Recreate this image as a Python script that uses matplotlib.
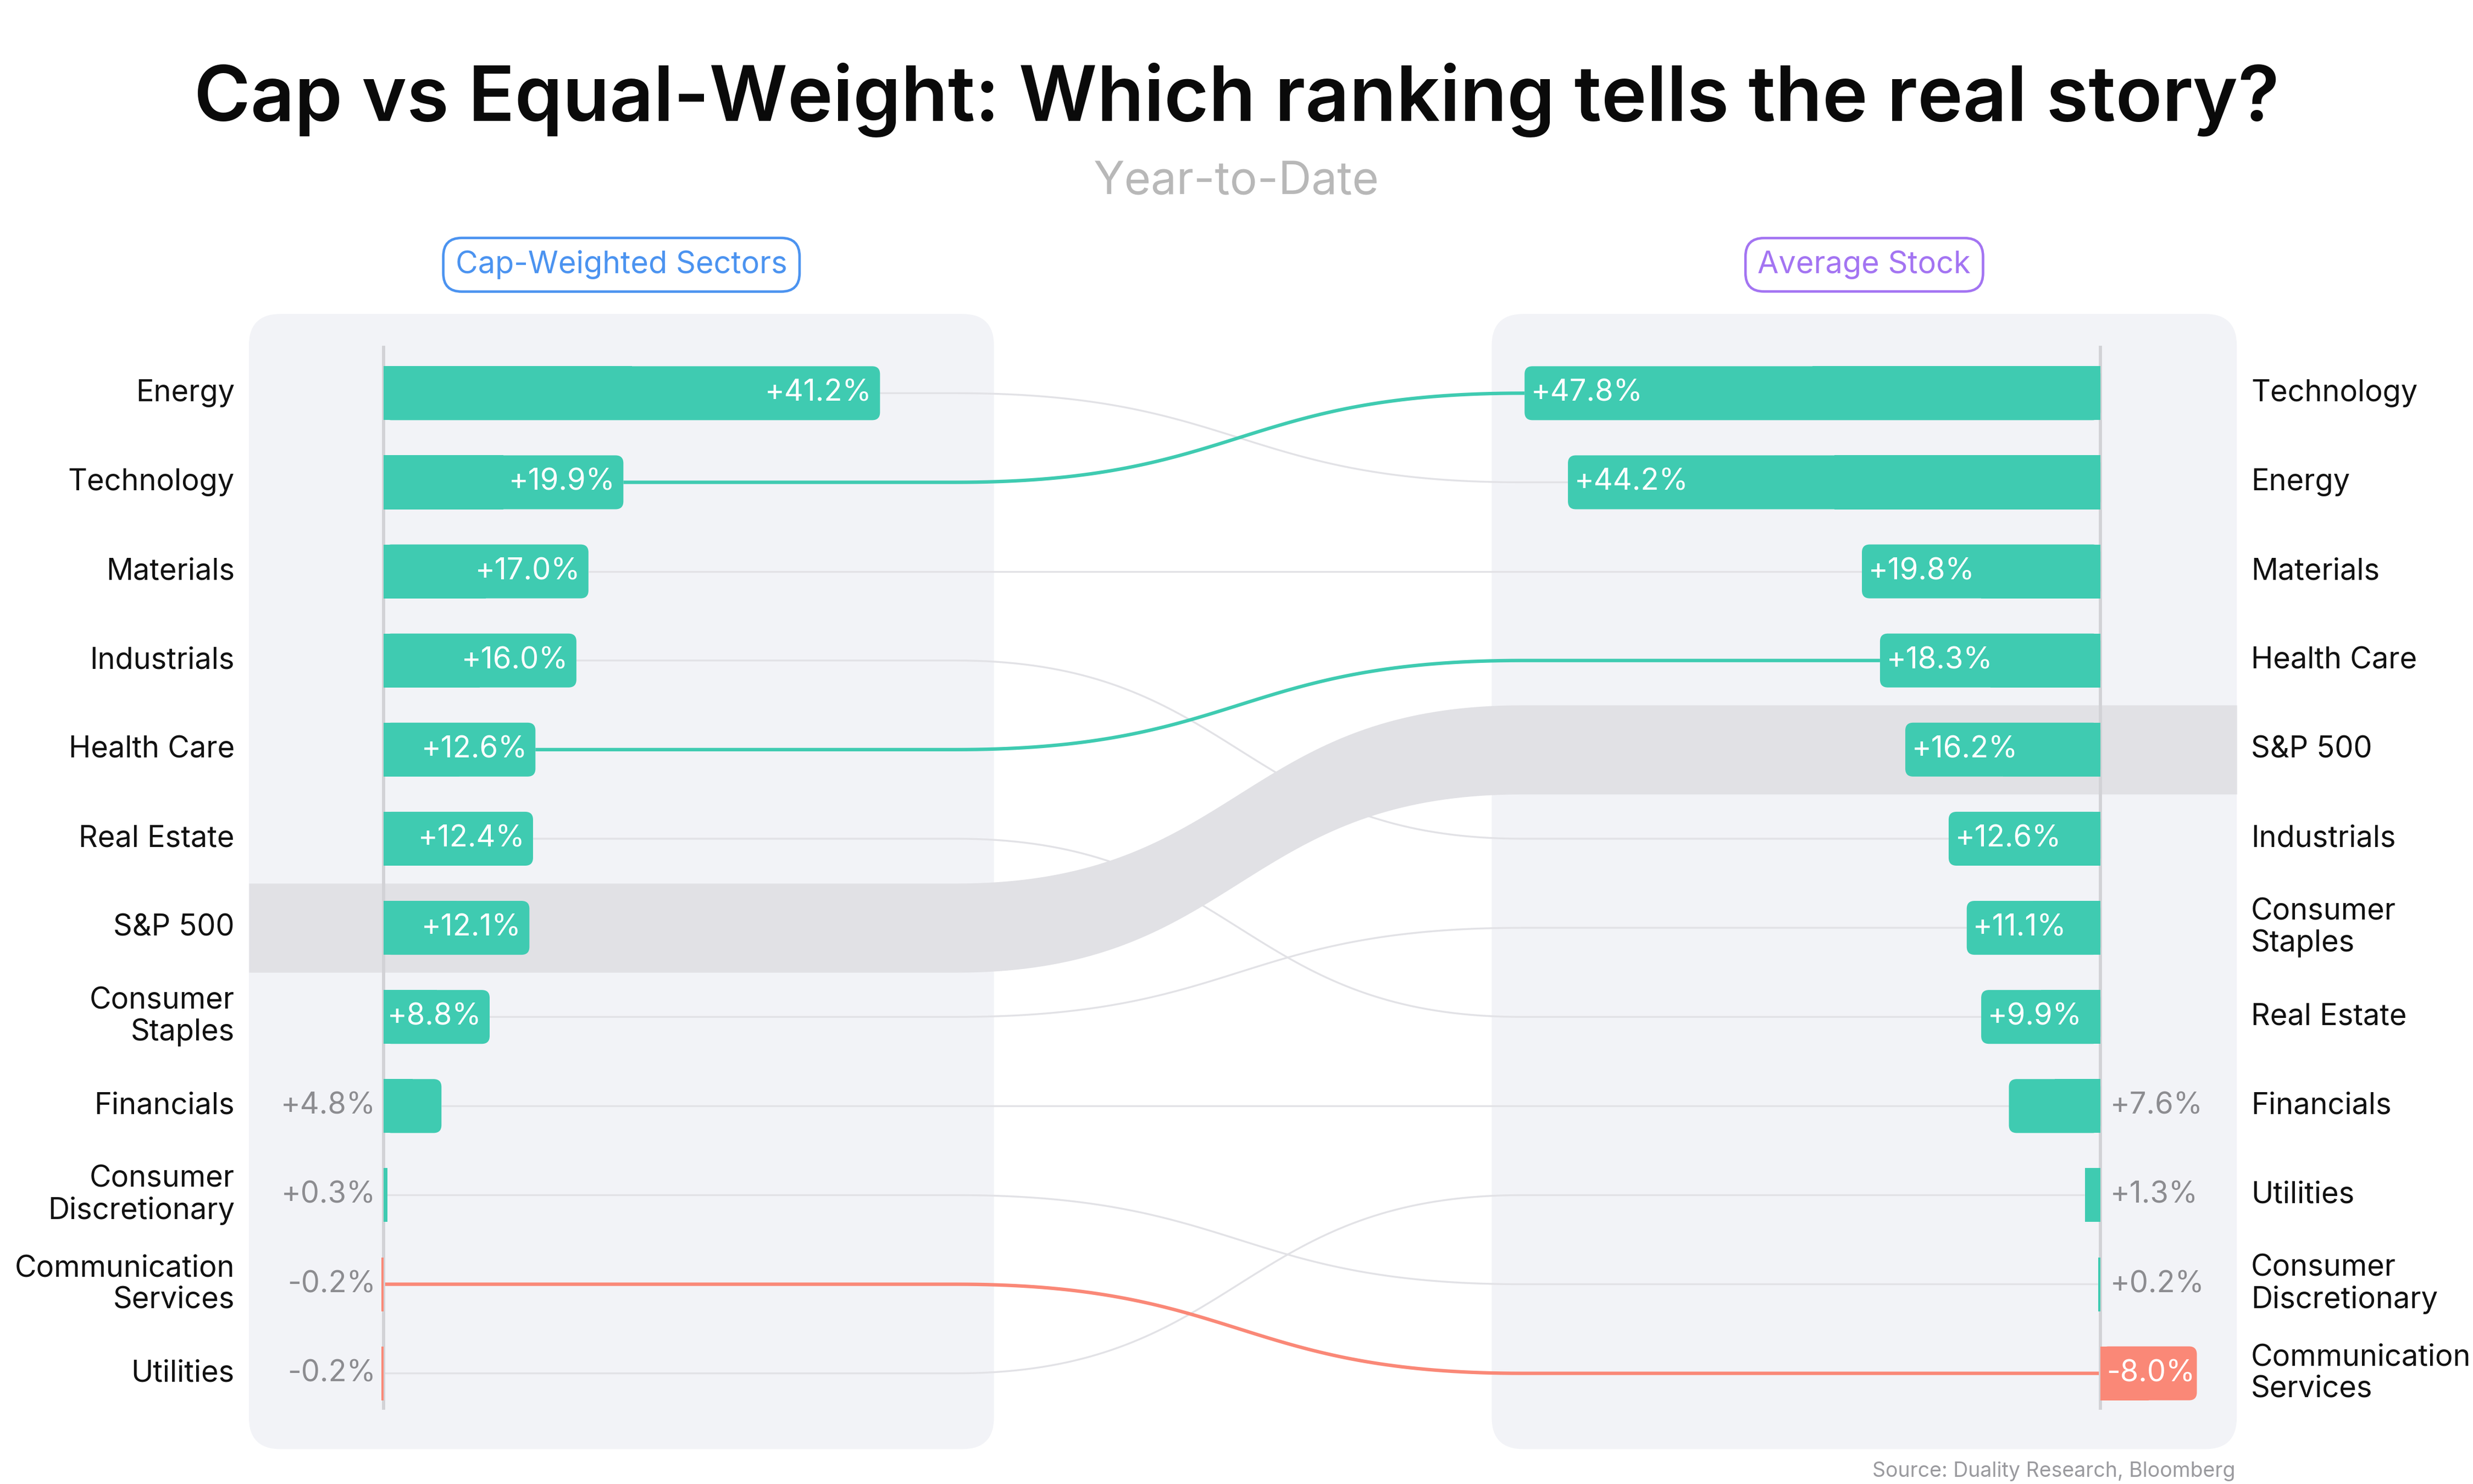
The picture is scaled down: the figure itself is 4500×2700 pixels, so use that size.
import matplotlib
matplotlib.use("Agg")
import matplotlib.pyplot as plt
from matplotlib.patches import FancyBboxPatch, Rectangle
import numpy as np

plt.rcParams['font.family'] = ['Inter', 'DejaVu Sans']

# Dane: ranking ważony kapitalizacją vs. przeciętna spółka (YTD, %)
cap_sectors = ["Energy", "Technology", "Materials", "Industrials", "Health Care",
               "Real Estate", "S&P 500", "Consumer Staples", "Financials",
               "Consumer Discretionary", "Communication Services", "Utilities"]
cap_returns = [41.2, 19.9, 17.0, 16.0, 12.6, 12.4, 12.1, 8.8, 4.8, 0.3, -0.2, -0.2]

eq_sectors = ["Technology", "Energy", "Materials", "Health Care", "S&P 500",
              "Industrials", "Consumer Staples", "Real Estate", "Financials",
              "Utilities", "Consumer Discretionary", "Communication Services"]
eq_returns = [47.8, 44.2, 19.8, 18.3, 16.2, 12.6, 11.1, 9.9, 7.6, 1.3, 0.2, -8.0]

benchmark = "S&P 500"

GREEN = "#3fcbb1"
RED = "#fa8877"
GRAY_LINE = "#e2e2e6"
BAND = "#e1e1e5"
PANEL = "#f2f3f7"
AXIS_C = "#d2d2d6"
LABEL_OUT = "#8c8c90"

highlight = {"Technology": GREEN, "Health Care": GREEN, "Communication Services": RED}

# Układ (w pikselach obrazu referencyjnego 1560x936)
W_PX, H_PX = 1560, 936
PX_PCT = 7.6          # pikseli na 1 punkt procentowy
AXIS_L, AXIS_R = 242, 1325
ROW0, ROW_STEP = 248, 56.2
BAR_H = 34 / ROW_STEP


def X(px):
    return (px - AXIS_L) / PX_PCT


def Y(px):
    return (px - ROW0) / ROW_STEP


R = X(AXIS_R)
ASPECT = PX_PCT / ROW_STEP


def nice(name):
    return name.replace(" ", "\n", 1) if len(name) > 12 else name


fig = plt.figure(figsize=(15, 9), dpi=300)
ax = fig.add_axes([0, 0, 1, 1])
ax.set_xlim(X(0), X(W_PX))
ax.set_ylim(Y(H_PX), Y(0))
ax.axis("off")

# panele
for px0, px1 in [(157, 627), (941, 1411)]:
    ax.add_patch(FancyBboxPatch((X(px0), Y(198)), X(px1) - X(px0), Y(914) - Y(198),
                                boxstyle=f"round,pad=0,rounding_size={20 / PX_PCT}",
                                mutation_aspect=ASPECT, fc=PANEL, ec="none", zorder=0))

# krzywe łączące
xa, xb = X(603), X(960)


def link(x0, y0, x1, y1, n=80):
    t = np.linspace(0, 1, n)
    cx = (xa + xb) / 2
    bx = (1 - t) ** 3 * xa + 3 * (1 - t) ** 2 * t * cx + 3 * (1 - t) * t ** 2 * cx + t ** 3 * xb
    by = (1 - t) ** 3 * y0 + 3 * (1 - t) ** 2 * t * y0 + 3 * (1 - t) * t ** 2 * y1 + t ** 3 * y1
    xs = np.concatenate([[x0], bx, [x1]])
    ys = np.concatenate([[y0], by, [y1]])
    return xs, ys


for i, s in enumerate(cap_sectors):
    j = eq_sectors.index(s)
    if s == benchmark:
        xs, ys = link(X(157), i, X(1411), j)
        ax.fill_between(xs, ys - 0.5, ys + 0.5, color=BAND, lw=0, zorder=3)
        continue
    x0 = max(cap_returns[i], 0)
    x1 = R - max(eq_returns[j], 0)
    xs, ys = link(x0, i, x1, j)
    if s in highlight:
        ax.plot(xs, ys, color=highlight[s], lw=1.5, zorder=2.5, solid_capstyle="butt")
    else:
        ax.plot(xs, ys, color=GRAY_LINE, lw=0.8, zorder=2, solid_capstyle="butt")

# osie
for xv in (0, R):
    ax.plot([xv, xv], [Y(219), Y(888)], color=AXIS_C, lw=1.4, zorder=4)

rr = 5 / PX_PCT


def bar(x_axis, x_end, row, color):
    lo, hi = min(x_axis, x_end), max(x_axis, x_end)
    w = hi - lo
    y0 = row - BAR_H / 2
    if w > 2 * rr:
        ax.add_patch(FancyBboxPatch((lo, y0), w, BAR_H,
                                    boxstyle=f"round,pad=0,rounding_size={rr}",
                                    mutation_aspect=ASPECT, fc=color, ec="none", zorder=5))
        sq_lo = lo if x_axis == lo else lo + w / 2
        ax.add_patch(Rectangle((sq_lo, y0), w / 2, BAR_H, fc=color, ec="none", zorder=5))
    else:
        ax.add_patch(Rectangle((lo, y0), w, BAR_H, fc=color, ec="none", zorder=5))


FS = 13
# lewy panel
for i, (s, v) in enumerate(zip(cap_sectors, cap_returns)):
    bar(0, v, i, GREEN if v >= 0 else RED)
    lab = f"{v:+.1f}%"
    if abs(v) >= 8:
        ax.text(v - 5 / PX_PCT, i, lab, ha="right", va="center", color="white", fontsize=FS, zorder=6)
    else:
        ax.text(-5 / PX_PCT, i, lab, ha="right", va="center", color=LABEL_OUT, fontsize=FS, zorder=6)
    ax.text(X(148), i, nice(s), ha="right", va="center", ma="right", color="#111111",
            fontsize=FS, linespacing=1.15, zorder=6)

# prawy panel
for j, (s, v) in enumerate(zip(eq_sectors, eq_returns)):
    bar(R, R - v, j, GREEN if v >= 0 else RED)
    lab = f"{v:+.1f}%"
    if abs(v) >= 8:
        ax.text(min(R, R - v) + 4 / PX_PCT, j, lab, ha="left", va="center", color="white",
                fontsize=FS, zorder=6)
    else:
        ax.text(R + 6 / PX_PCT, j, lab, ha="left", va="center", color=LABEL_OUT, fontsize=FS, zorder=6)
    ax.text(X(1420), j, nice(s), ha="left", va="center", ma="left", color="#111111",
            fontsize=FS, linespacing=1.15, zorder=6)

# nagłówki
title = fig.text(0.5, 1 - 63 / H_PX, "Cap vs Equal-Weight: Which ranking tells the real story?",
                 ha="center", va="center", fontsize=30, weight="semibold", color="#0a0a0a")
fig.canvas.draw()
bb = title.get_window_extent()
title.set_fontsize(30 * (1315 / W_PX * fig.bbox.width) / bb.width)

fig.text(0.5, 1 - 115 / H_PX, "Year-to-Date", ha="center", va="center",
         fontsize=20, color="#b8b8b8")

for cx, txt, col in [(392, "Cap-Weighted Sectors", "#4b93f0"), (1176, "Average Stock", "#a374f2")]:
    fig.text(cx / W_PX, 1 - 167 / H_PX, txt, ha="center", va="center", fontsize=13.4, color=col,
             bbox=dict(boxstyle="round,pad=0.4,rounding_size=0.6", fc="white", ec=col, lw=1.1))

fig.text(1410 / W_PX, 1 - 928 / H_PX, "Source: Duality Research, Bloomberg", ha="right",
         va="center", fontsize=9, color="#9a9a9e")

fig.savefig("out.png", dpi=300, facecolor="white")
